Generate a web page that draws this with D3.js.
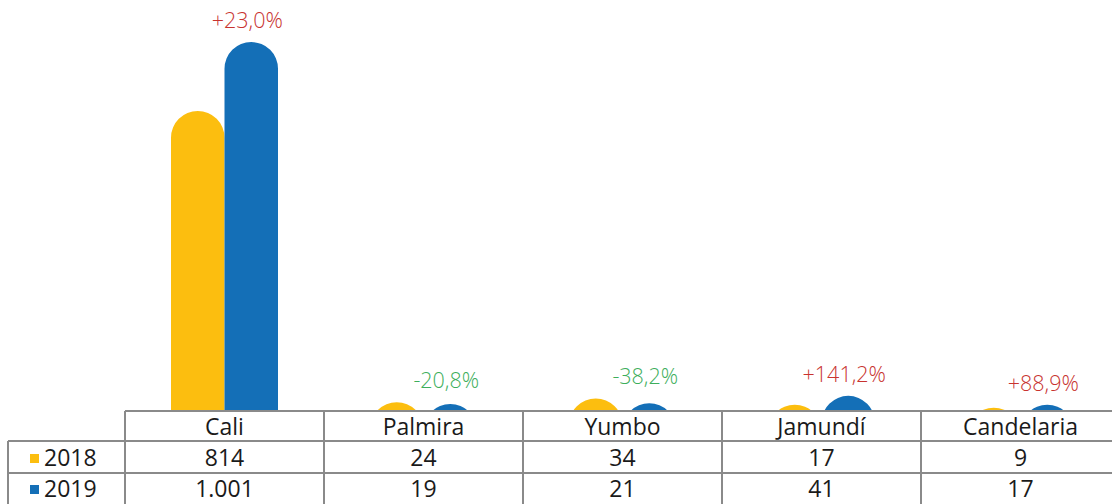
<!DOCTYPE html>
<html>
<head>
<meta charset="utf-8">
<script src="https://cdn.jsdelivr.net/npm/d3@7"></script>
<style>
  body { margin: 0; background: #fff; }
  text { font-family: "Open Sans", sans-serif; }
</style>
</head>
<body>
<div id="chart"></div>
<script>
const categories = ["Cali", "Palmira", "Yumbo", "Jamundí", "Candelaria"];
const years = ["2018", "2019"];
const values2018 = [814, 24, 34, 17, 9];
const values2019 = [1001, 19, 21, 41, 17];
const labels2018 = ["814", "24", "34", "17", "9"];
const labels2019 = ["1.001", "19", "21", "41", "17"];
const changes = ["+23,0%", "-20,8%", "-38,2%", "+141,2%", "+88,9%"];

const width = 1112, height = 504;
const colors = ["#FCBE0F", "#146FB7"];
const gridColor = "#8a8a8a";

const svg = d3.select("#chart").append("svg")
    .attr("width", width)
    .attr("height", height);

const baseY = 411;
const tableLeft = 125, colW = 199;

const x = d3.scaleBand()
    .domain(categories)
    .range([tableLeft, tableLeft + colW * categories.length]);

const xs = d3.scaleBand()
    .domain(years)
    .range([x.bandwidth() / 2 - 53.5, x.bandwidth() / 2 + 53.5]);

const y = d3.scaleLinear()
    .domain([0, 1001])
    .range([baseY, 42]);

// clip so small rounded bars are cut at the table edge
svg.append("clipPath").attr("id", "plotClip")
    .append("rect")
    .attr("x", 0).attr("y", 0)
    .attr("width", width).attr("height", baseY);

function barPath(x0, w, top) {
    const r = w / 2;
    const p = d3.path();
    p.moveTo(x0, baseY + 40);
    p.lineTo(x0, top + r);
    p.arc(x0 + r, top + r, r, Math.PI, 0);
    p.lineTo(x0 + w, baseY + 40);
    p.closePath();
    return p.toString();
}

const series = [values2018, values2019];
const bars = svg.append("g").attr("clip-path", "url(#plotClip)");

categories.forEach((c, i) => {
    years.forEach((yr, j) => {
        bars.append("path")
            .attr("d", barPath(x(c) + xs(yr), xs.bandwidth(), y(series[j][i])))
            .attr("fill", colors[j]);
    });
});

// change labels
categories.forEach((c, i) => {
    const top = y(Math.max(values2018[i], values2019[i]));
    svg.append("text")
        .attr("x", x(c) + xs("2019") + xs.bandwidth() / 2 - 4)
        .attr("y", top - 14)
        .attr("text-anchor", "middle")
        .style("font-size", "21.5px")
        .style("font-weight", 300)
        .style("fill", changes[i].startsWith("+") ? "#C8332F" : "#3DAE5B")
        .text(changes[i]);
});

// data table
const rowTop = [411, 441, 473];
const rightEdge = width;
const tbl = svg.append("g")
    .attr("stroke", gridColor)
    .attr("stroke-width", 2);

tbl.append("line").attr("x1", tableLeft).attr("x2", rightEdge).attr("y1", rowTop[0]).attr("y2", rowTop[0]);
tbl.append("line").attr("x1", 8).attr("x2", rightEdge).attr("y1", rowTop[1]).attr("y2", rowTop[1]);
tbl.append("line").attr("x1", 8).attr("x2", rightEdge).attr("y1", rowTop[2]).attr("y2", rowTop[2]);
tbl.append("line").attr("x1", 8).attr("x2", 8).attr("y1", rowTop[1]).attr("y2", height);
categories.forEach(c => {
    tbl.append("line")
        .attr("x1", x(c)).attr("x2", x(c))
        .attr("y1", rowTop[0]).attr("y2", height);
});

const cellText = (tx, ty, t, anchor) => svg.append("text")
    .attr("x", tx).attr("y", ty)
    .attr("text-anchor", anchor || "middle")
    .attr("dominant-baseline", "central")
    .style("font-size", "23px")
    .style("fill", "#1a1a1a")
    .text(t);

categories.forEach((c, i) => {
    const cx = x(c) + x.bandwidth() / 2;
    cellText(cx, 426, c);
    cellText(cx, 457, labels2018[i]);
    cellText(cx, 488, labels2019[i]);
});

[457, 488].forEach((ry, j) => {
    svg.append("rect")
        .attr("x", 30).attr("y", ry - 3)
        .attr("width", 9).attr("height", 9)
        .attr("fill", colors[j]);
    cellText(44, ry, years[j], "start");
});
</script>
</body>
</html>
